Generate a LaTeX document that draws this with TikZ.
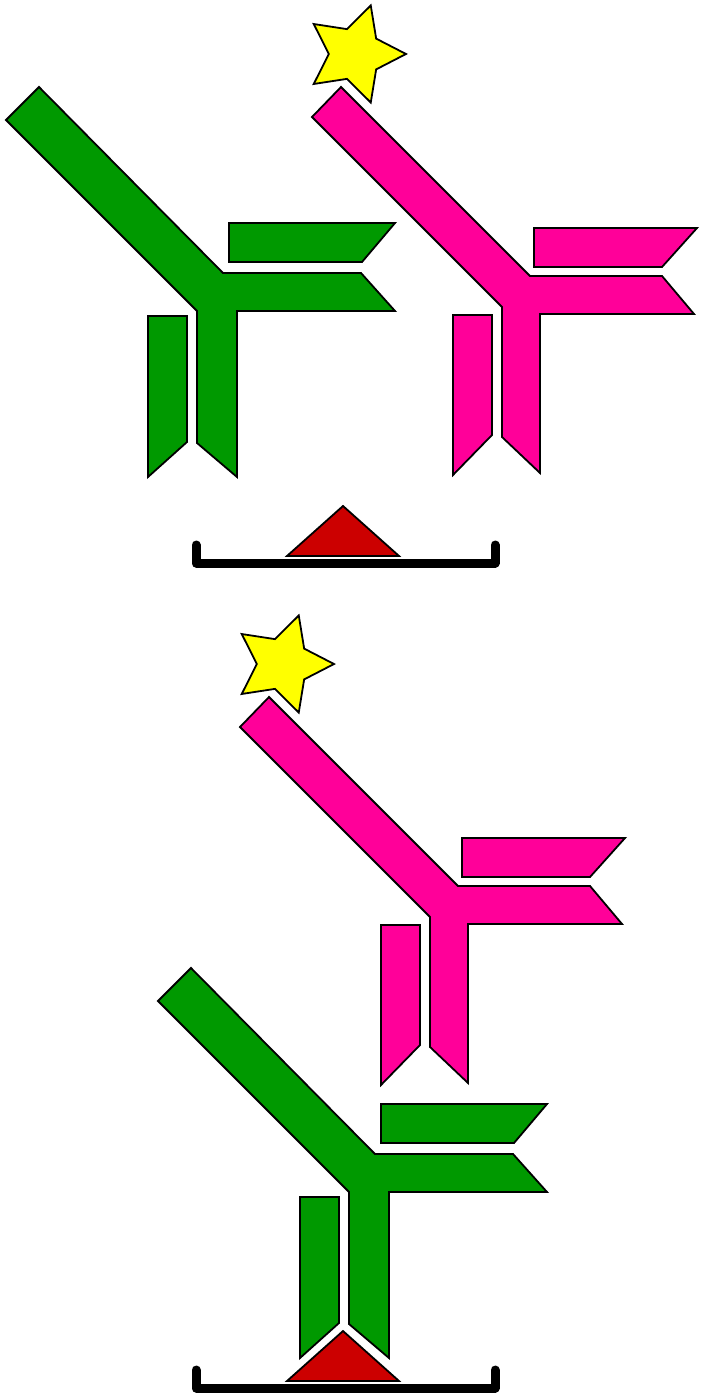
\documentclass[tikz,border=0pt]{standalone}
\usetikzlibrary{shapes.geometric}
\definecolor{abgreen}{RGB}{0,153,0}
\definecolor{abpink}{RGB}{255,0,153}
\definecolor{tagyellow}{RGB}{255,255,0}
\definecolor{antigenred}{RGB}{204,0,0}
\tikzset{
  chain/.style={draw=black, line width=1.8pt, line join=miter},
  platebar/.style={draw=black, line width=9pt, line cap=round, line join=round},
  antigen/.style={draw=black, fill=antigenred, line width=1.8pt, line join=miter},
  tagstar/.style={star, star points=5, star point ratio=1.95, minimum size=102pt,
    inner sep=0pt, outer sep=0pt, shape border rotate=-18,
    draw=black, fill=tagyellow, line width=1.8pt},
  % capture antibody: heavy chain plus two light chains
  pics/greenab/.style={code={
    \draw[chain, fill=abgreen] (6,120) -- (39,87) -- (223,273) -- (361,273) -- (395,311)
      -- (237,311) -- (237,477) -- (197,443) -- (197,311) -- cycle;
    \draw[chain, fill=abgreen] (229,223) -- (395,223) -- (362,262) -- (229,262) -- cycle;
    \draw[chain, fill=abgreen] (148,316) -- (187,316) -- (187,442) -- (148,477) -- cycle;
  }},
  % labelled antibody
  pics/pinkab/.style={code={
    \draw[chain, fill=abpink] (312,117) -- (341,87) -- (530,276) -- (662,276) -- (694,314)
      -- (540,314) -- (540,473) -- (502,437) -- (502,307) -- cycle;
    \draw[chain, fill=abpink] (534,228) -- (697,228) -- (662,267) -- (534,267) -- cycle;
    \draw[chain, fill=abpink] (453,315) -- (492,315) -- (492,435) -- (453,475) -- cycle;
  }},
  % surface with bound antigen
  pics/surface/.style={code={
    \draw[platebar] (196,545) -- (196,563) -- (495,563) -- (495,545);
    \draw[antigen] (343,506) -- (399,556) -- (287,556) -- cycle;
  }},
}
\begin{document}
\begin{tikzpicture}[x=1pt,y=-1pt]
  \useasboundingbox (0,0) rectangle (701,1394);
  % upper panel: both antibodies free above the surface
  \pic (plateA) at (0,0) {surface};
  \pic (captureA) at (0,0) {greenab};
  \pic (labelA) at (0,0) {pinkab};
  \node[tagstar] (tagA) at (355,54) {};
  % lower panel: sandwich on the surface
  \pic (plateB) at (0,825) {surface};
  \pic (captureB) at (152,881) {greenab};
  \pic (labelB) at (-72,610) {pinkab};
  \node[tagstar] (tagB) at (283,664) {};
\end{tikzpicture}
\end{document}
